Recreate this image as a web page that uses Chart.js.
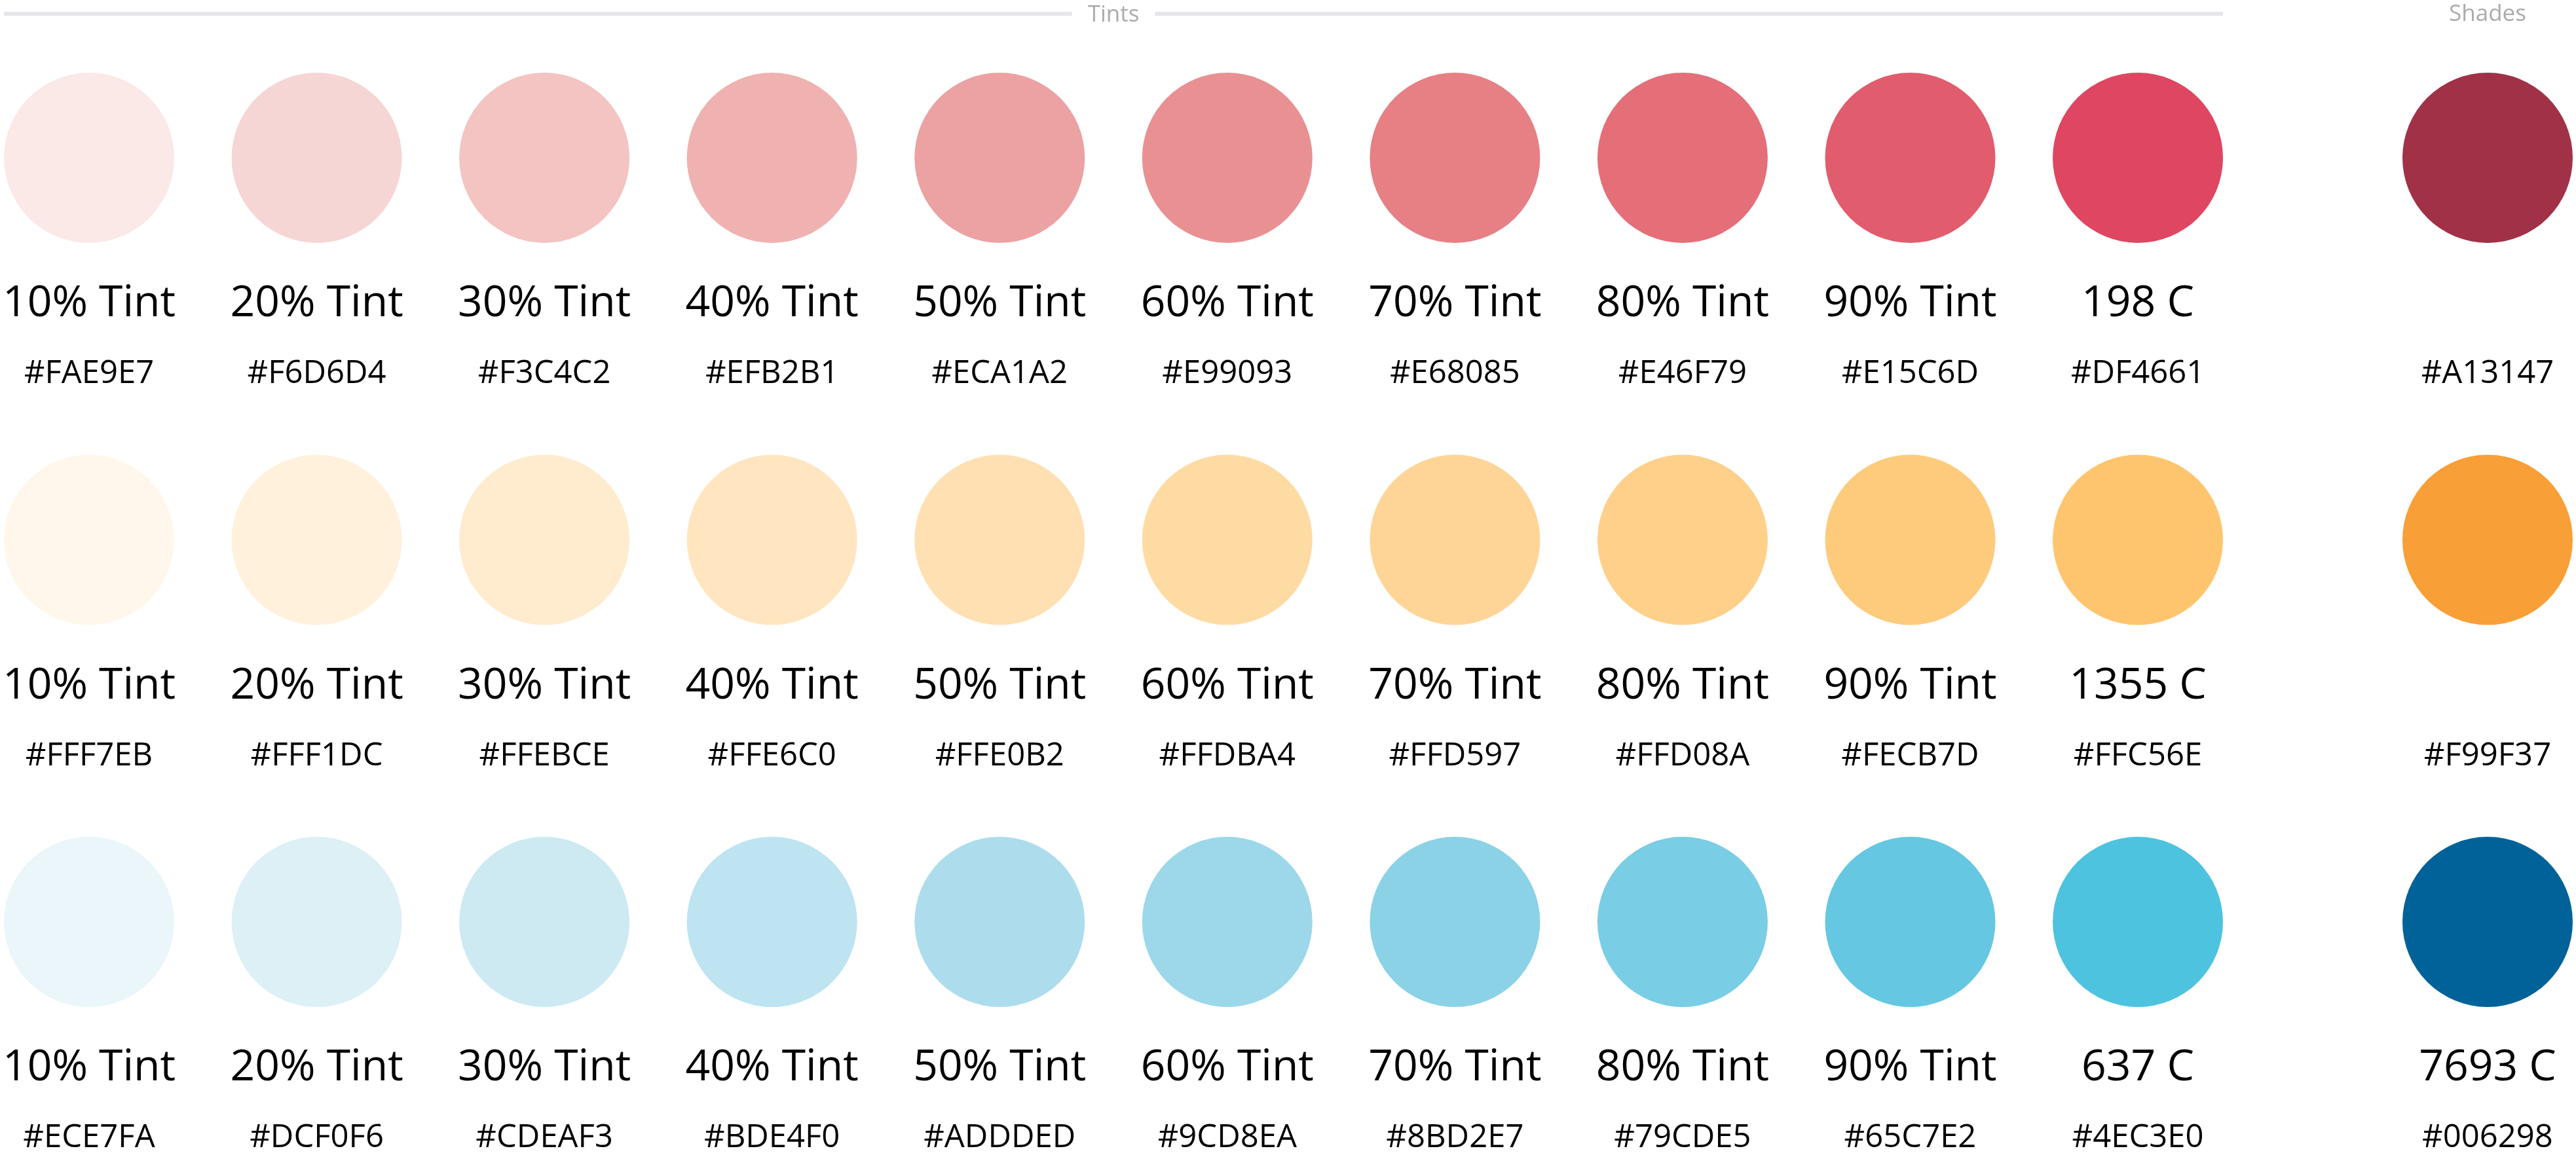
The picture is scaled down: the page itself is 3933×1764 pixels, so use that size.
<!DOCTYPE html>
<html>
<head>
<meta charset="utf-8">
<script src="https://cdn.jsdelivr.net/npm/chart.js@4/dist/chart.umd.min.js"></script>
<style>
  html, body { margin: 0; padding: 0; background: #ffffff; }
  #wrap { position: relative; width: 3933px; height: 1764px; }
</style>
</head>
<body>
<div id="wrap"><canvas id="c"></canvas></div>
<script>
// ---- data ----
const tintNames = ['10% Tint', '20% Tint', '30% Tint', '40% Tint', '50% Tint', '60% Tint', '70% Tint', '80% Tint', '90% Tint'];
const baseNames = ['198 C', '1355 C', '637 C'];
const shadeNames = ['', '', '7693 C'];
const redTints = ['#FAE9E7', '#F6D6D4', '#F3C4C2', '#EFB2B1', '#ECA1A2', '#E99093', '#E68085', '#E46F79', '#E15C6D', '#DF4661'];
const orangeTints = ['#FFF7EB', '#FFF1DC', '#FFEBCE', '#FFE6C0', '#FFE0B2', '#FFDBA4', '#FFD597', '#FFD08A', '#FECB7D', '#FFC56E'];
const blueTints = ['#ECE7FA', '#DCF0F6', '#CDEAF3', '#BDE4F0', '#ADDDED', '#9CD8EA', '#8BD2E7', '#79CDE5', '#65C7E2', '#4EC3E0'];
const shadeHex = ['#A13147', '#F99F37', '#006298'];
// colour actually shown where the printed code differs from the swatch
const swatchOverrides = { '#ECE7FA': '#EAF6F9' };
const headerTints = 'Tints';
const headerShades = 'Shades';

// ---- build chart data ----
const tintRows = [redTints, orangeTints, blueTints];
const tintPoints = [], tintFills = [], tintText = [];
tintRows.forEach((row, r) => {
  row.forEach((hex, c) => {
    tintPoints.push({ x: c, y: r });
    tintFills.push(swatchOverrides[hex] || hex);
    tintText.push({ name: c < tintNames.length ? tintNames[c] : baseNames[r], hex: hex });
  });
});
const shadePoints = shadeHex.map((h, r) => ({ x: 0, y: r }));
const shadeFills = shadeHex.map(h => swatchOverrides[h] || h);
const shadeText = shadeHex.map((h, r) => ({ name: shadeNames[r], hex: h }));
const textByDataset = [tintText, shadeText];

const labelPlugin = {
  id: 'swatchLabels',
  afterDatasetsDraw(chart) {
    const ctx = chart.ctx;
    ctx.save();
    ctx.textAlign = 'center';
    ctx.textBaseline = 'alphabetic';
    ctx.fillStyle = '#000000';
    chart.data.datasets.forEach((ds, di) => {
      const meta = chart.getDatasetMeta(di);
      meta.data.forEach((pt, j) => {
        const t = textByDataset[di][j];
        if (t.name) {
          ctx.font = '66px "Open Sans"';
          ctx.fillText(t.name, pt.x, pt.y + 242);
        }
        ctx.font = '49px "Open Sans"';
        ctx.fillText(t.hex, pt.x, pt.y + 344);
      });
    });
    // header
    const xs = chart.scales.x, xsh = chart.scales.xs;
    const left = xs.getPixelForValue(0) - 130;
    const right = xs.getPixelForValue(redTints.length - 1) + 130;
    const mid = (left + right) / 2;
    ctx.font = '35px "Open Sans"';
    const tw = ctx.measureText(headerTints).width;
    ctx.fillStyle = '#e6e6ea';
    ctx.fillRect(left, 18, (mid - tw / 2 - 24) - left, 6);
    ctx.fillRect(mid + tw / 2 + 24, 18, right - (mid + tw / 2 + 24), 6);
    ctx.fillStyle = '#ababab';
    ctx.fillText(headerTints, mid, 33);
    ctx.fillText(headerShades, xsh.getPixelForValue(0), 32);
    ctx.restore();
  }
};

const colSpacing = 347.56;
const rowSpacing = 583.5;
new Chart(document.getElementById('c'), {
  type: 'scatter',
  data: {
    datasets: [
      { data: tintPoints, backgroundColor: tintFills, pointRadius: 130, pointBorderWidth: 0, borderWidth: 0, xAxisID: 'x', clip: false },
      { data: shadePoints, backgroundColor: shadeFills, pointRadius: 130, pointBorderWidth: 0, borderWidth: 0, xAxisID: 'xs', clip: false }
    ]
  },
  options: {
    responsive: true,
    maintainAspectRatio: false,
    animation: false,
    events: [],
    layout: { padding: 0, autoPadding: false },
    plugins: { legend: { display: false }, tooltip: { enabled: false } },
    scales: {
      x: { type: 'linear', display: false, min: -136 / colSpacing, max: (3933 - 136) / colSpacing },
      xs: { type: 'linear', display: false, min: -3798 / colSpacing, max: (3933 - 3798) / colSpacing },
      y: { type: 'linear', display: false, reverse: true, min: -241 / rowSpacing, max: (1764 - 241) / rowSpacing }
    }
  },
  plugins: [labelPlugin]
});
</script>
</body>
</html>
